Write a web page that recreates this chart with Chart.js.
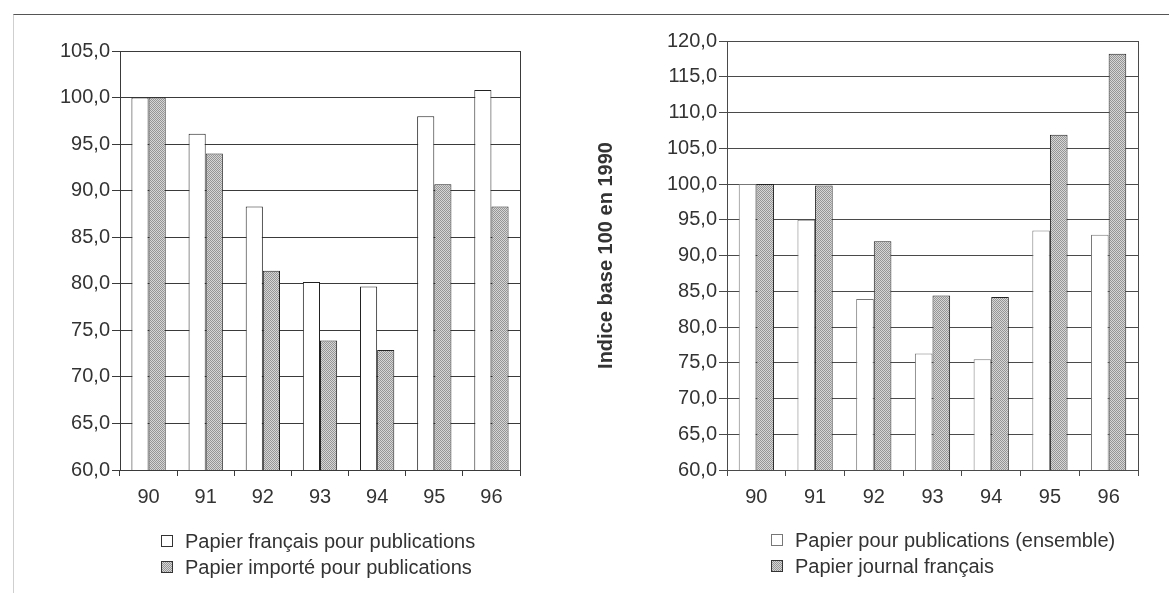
<!DOCTYPE html>
<html lang="fr">
<head>
    <meta charset="UTF-8">
    <title>Indices du prix du papier 1990-1996</title>
    <script src="https://cdn.jsdelivr.net/npm/chart.js"></script>
    <style>
        body {
            margin: 0;
            background: #fff;
            font-family: "Liberation Sans", Arial, sans-serif;
        }
        #page {
            position: relative;
            width: 1169px;
            height: 593px;
            overflow: hidden;
        }
        .frame {
            position: absolute;
            left: 13px;
            top: 14px;
            width: 1300px;
            height: 700px;
            border-top: 1px solid #555;
            border-left: 1px solid #cfcfcf;
        }
        canvas {
            position: absolute;
            top: 0;
        }
        .legend {
            position: absolute;
            font-size: 20px;
            line-height: 26px;
            color: #333;
        }
        .legend div {
            display: flex;
            align-items: center;
            white-space: nowrap;
        }
        .sw {
            width: 10px;
            height: 10px;
            border: 1px solid #333;
            margin-right: 12px;
            background: #fff;
        }
        .sw.hatch {
            background: repeating-conic-gradient(#959595 0 25%, #d6d6d6 0 50%) 0 0 / 2px 2px;
        }
    </style>
</head>
<body>
<div id="page">
    <div class="frame"></div>
    <canvas id="leftChart" width="580" height="593" style="left:0"></canvas>
    <canvas id="rightChart" width="589" height="593" style="left:580px"></canvas>

    <div class="legend" style="left:161px; top:528px">
        <div><span class="sw"></span>Papier français pour publications</div>
        <div><span class="sw hatch"></span>Papier importé pour publications</div>
    </div>
    <div class="legend" style="left:771px; top:527px">
        <div><span class="sw" style="border-color:#777"></span>Papier pour publications (ensemble)</div>
        <div><span class="sw hatch"></span>Papier journal français</div>
    </div>
</div>
<script>
    // indices, base 100 en 1990
    const years = ['90', '91', '92', '93', '94', '95', '96'];

    const papierFrancaisPub = [100.0, 96.1, 88.3, 80.2, 79.7, 98.0, 100.8];
    const papierImportePub  = [100.0, 94.0, 81.4, 73.9, 72.9, 90.7, 88.3];

    const papierPubEnsemble = [100.0, 95.0, 83.9, 76.3, 75.5, 93.5, 92.9];
    const papierJournalFr   = [100.0, 99.8, 92.0, 84.4, 84.2, 106.9, 118.2];

    const leftAxis  = { min: 60, max: 105, step: 5 };
    const rightAxis = { min: 60, max: 120, step: 5 };
    const axisTitle = 'Indice base 100 en 1990';

    function hatch(ctx) {
        const c = document.createElement('canvas');
        c.width = 2;
        c.height = 2;
        const p = c.getContext('2d');
        p.fillStyle = '#d6d6d6';
        p.fillRect(0, 0, 2, 2);
        p.fillStyle = '#959595';
        p.fillRect(0, 0, 1, 1);
        p.fillRect(1, 1, 1, 1);
        return ctx.createPattern(c, 'repeat');
    }

    function makeChart(id, o) {
        const ctx = document.getElementById(id).getContext('2d');
        const tickFont = { family: '"Liberation Sans", Arial, sans-serif', size: 20 };
        return new Chart(ctx, {
            type: 'bar',
            data: {
                labels: years,
                datasets: [
                    {
                        data: o.white,
                        backgroundColor: '#fff',
                        borderColor: o.whiteBorder,
                        borderWidth: 1,
                        categoryPercentage: 0.6,
                        barPercentage: 1
                    },
                    {
                        data: o.grey,
                        backgroundColor: hatch(ctx),
                        borderColor: '#222',
                        borderWidth: 1,
                        categoryPercentage: 0.6,
                        barPercentage: 1
                    }
                ]
            },
            options: {
                responsive: false,
                animation: false,
                layout: { padding: { left: 0, top: o.top, right: o.right, bottom: 83 } },
                plugins: { legend: { display: false }, tooltip: { enabled: false } },
                scales: {
                    x: {
                        grid: {
                            offset: true,
                            // only the right edge of the plot box, no inner verticals
                            color: c => c.type === 'scale' ? o.grid : 'rgba(0,0,0,0)',
                            tickColor: o.grid,
                            tickLength: 6
                        },
                        border: { color: o.grid },
                        ticks: { font: tickFont, color: '#333', padding: 9 },
                        afterFit: s => { s.height = 40; }
                    },
                    y: {
                        min: o.axis.min,
                        max: o.axis.max,
                        ticks: {
                            stepSize: o.axis.step,
                            font: tickFont,
                            color: '#333',
                            padding: 2,
                            callback: v => v.toFixed(1).replace('.', ',')
                        },
                        grid: { color: o.grid, tickLength: 8 },
                        border: { color: o.grid },
                        title: {
                            display: !!o.title,
                            text: o.title || '',
                            font: { family: '"Liberation Sans", Arial, sans-serif', size: 20, weight: 'bold' },
                            color: '#333',
                            padding: { top: 14, bottom: 0 }
                        },
                        afterFit: s => { s.width = o.axisX; }
                    }
                }
            }
        });
    }

    makeChart('leftChart', {
        white: papierFrancaisPub,
        grey: papierImportePub,
        whiteBorder: '#222',
        axis: leftAxis,
        grid: '#3a3a3a',
        top: 51,
        right: 60,
        axisX: 120
    });

    makeChart('rightChart', {
        white: papierPubEnsemble,
        grey: papierJournalFr,
        whiteBorder: '#777',
        axis: rightAxis,
        grid: '#4a4a4a',
        title: axisTitle,
        top: 41,
        right: 31,
        axisX: 147
    });
</script>
</body>
</html>
